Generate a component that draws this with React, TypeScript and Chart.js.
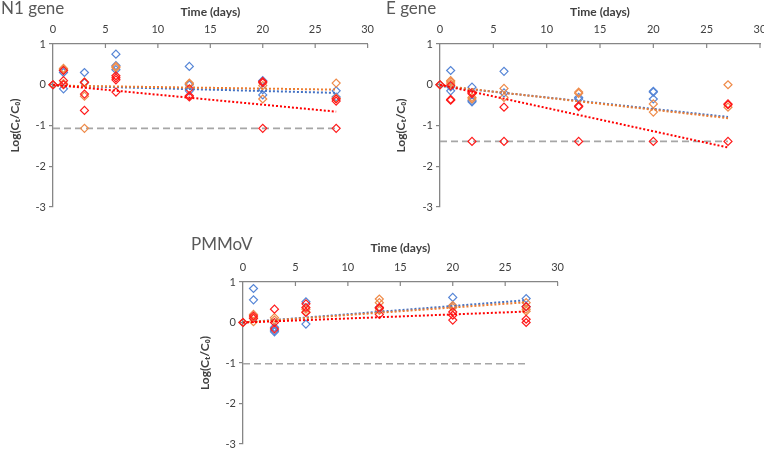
import React, { useEffect, useRef } from 'react';
import { Chart, registerables } from 'chart.js';

Chart.register(...registerables);

// ---------- data ----------
const DAYS = [0, 1, 3, 6, 13, 20, 27];
const TREND_DAYS = [0, 27];
const X_TICKS = [0, 5, 10, 15, 20, 25, 30];
const Y_TICKS = [-3, -2, -1, 0, 1];

// N1 gene (replicate values per day)
const N1_BLUE = [[0], [0.35, 0.3, -0.1], [0.3, 0.05], [0.75, 0.47, 0.37], [0.45, 0.0, -0.15], [0.1, -0.12, -0.25], [-0.15, -0.3]];
const N1_ORANGE = [[0], [0.4, 0.38, 0.03], [0.07, -0.28, -1.07], [0.45, 0.42], [0.04, 0.02], [-0.02, -0.35], [0.04, -0.33]];
const N1_RED = [[0], [0.35, 0.1, 0.0], [0.06, -0.23, -0.63], [0.22, 0.17, 0.12, -0.18], [-0.1, -0.27, -0.3], [0.08, 0.05, -1.07], [-0.35, -0.4, -1.07]];
const N1_TREND_BLUE = [-0.02, -0.2];
const N1_TREND_ORANGE = [-0.02, -0.12];
const N1_TREND_RED = [0.0, -0.66];
const N1_LOD = -1.07;

// E gene
const E_BLUE = [[0], [0.35, -0.05, -0.15], [-0.06, -0.39, -0.42], [0.33, -0.2], [-0.31, -0.35], [-0.16, -0.18, -0.35], []];
const E_ORANGE = [[0], [0.1, 0.02, 0.07], [-0.31, -0.35], [-0.09, -0.31], [-0.18, -0.21], [-0.47, -0.67], [0.0, -0.55]];
const E_RED = [[0], [-0.02, -0.36, -0.38], [-0.19, -0.22, -1.39], [-0.55, -1.39], [-0.52, -0.54, -1.39], [-1.39], [-0.47, -0.49, -1.39]];
const E_TREND_BLUE = [-0.03, -0.79];
const E_TREND_ORANGE = [-0.02, -0.82];
const E_TREND_RED = [0.0, -1.54];
const E_LOD = -1.39;

// PMMoV
const P_BLUE = [[0], [0.84, 0.56], [-0.12, -0.23, -0.2], [0.51, -0.04], [0.37], [0.62, 0.41], [0.59, 0.39]];
const P_ORANGE = [[0], [0.2, 0.02, 0.13], [0.12, 0.06], [0.33, 0.26], [0.58, 0.49, 0.3], [0.42, 0.37], [0.49, 0.33, 0.28]];
const P_RED = [[0], [0.16, 0.1], [0.33, 0.0, -0.16], [0.46, 0.37, 0.25], [0.37, 0.35, 0.2], [0.26, 0.18, 0.06], [0.39, 0.08, 0.0]];
const P_TREND_BLUE = [0.0, 0.55];
const P_TREND_ORANGE = [0.0, 0.5];
const P_TREND_RED = [0.0, 0.27];
const P_LOD = -1.02;

// ---------- styling ----------
const BLUE = '#5585D6';
const ORANGE = '#EF8A48';
const RED = '#FF1A1A';
const BLUE_LINE = '#4472C4';
const ORANGE_LINE = '#ED7D31';
const RED_LINE = '#FF0000';
const GREY_DASH = '#A6A6A6';
const AXIS = '#868686';
const TEXT = '#404040';
const FONT = 'Lato, "Open Sans", sans-serif';

const toPoints = (vals: number[][]) =>
  vals.flatMap((arr, i) => arr.map((v) => ({ x: DAYS[i], y: v })));
const toLine = (vals: number[]) => vals.map((v, i) => ({ x: TREND_DAYS[i], y: v }));

const innerTicks = {
  id: 'innerTicks',
  afterDraw(chart: any) {
    const { ctx, chartArea, scales } = chart;
    const x = scales.x;
    ctx.save();
    ctx.strokeStyle = AXIS;
    ctx.lineWidth = 1.2;
    X_TICKS.forEach((t) => {
      if (t === 0) return;
      const px = x.getPixelForValue(t);
      ctx.beginPath();
      ctx.moveTo(px, chartArea.top);
      ctx.lineTo(px, chartArea.top + 4);
      ctx.stroke();
    });
    ctx.restore();
  },
};

type PanelCfg = {
  left: number; top: number; w: number; h: number;
  yW: number; xH: number; padR: number; padB: number;
  xTitlePad: number; yTitlePad: number;
  blue: number[][]; orange: number[][]; red: number[][];
  tb: number[]; to: number[]; tr: number[]; lod: number;
};

function Panel(p: PanelCfg) {
  const ref = useRef<HTMLCanvasElement>(null);
  useEffect(() => {
    if (!ref.current) return;
    const scatter = (data: any[], color: string) => ({
      type: 'scatter',
      data,
      showLine: false,
      pointStyle: 'rectRot',
      pointRadius: 4,
      pointBorderWidth: 1.2,
      pointBorderColor: color,
      pointBackgroundColor: 'rgba(255,255,255,0)',
      borderColor: color,
      clip: false,
    });
    const line = (data: any[], color: string, dash: number[], width: number) => ({
      type: 'scatter',
      data,
      showLine: true,
      borderColor: color,
      borderWidth: width,
      borderDash: dash,
      pointRadius: 0,
      fill: false,
      clip: false,
    });
    const chart = new Chart(ref.current, {
      type: 'scatter',
      data: {
        datasets: [
          line(toLine(p.tr), RED_LINE, [2, 2], 2),
          line(toLine(p.to), ORANGE_LINE, [2, 2], 2),
          line(toLine(p.tb), BLUE_LINE, [2, 2], 2),
          scatter(toPoints(p.red), RED),
          scatter(toPoints(p.orange), ORANGE),
          scatter(toPoints(p.blue), BLUE),
          line(toLine([p.lod, p.lod]), GREY_DASH, [7, 4], 1.6),
        ] as any,
      },
      options: {
        animation: false,
        responsive: false,
        devicePixelRatio: 1,
        layout: { padding: { left: 0, top: 0, right: p.padR, bottom: p.padB } },
        plugins: { legend: { display: false }, tooltip: { enabled: false } },
        scales: {
          x: {
            type: 'linear',
            position: 'top',
            min: 0,
            max: 30,
            afterBuildTicks: (s: any) => { s.ticks = X_TICKS.map((v) => ({ value: v })); },
            afterFit: (s: any) => { s.height = p.xH; },
            grid: { display: false, drawTicks: false },
            border: { display: true, color: AXIS, width: 1.3 },
            ticks: { padding: 8, color: TEXT, font: { family: FONT, size: 11 } },
            title: {
              display: true,
              text: 'Time (days)',
              color: TEXT,
              font: { family: FONT, size: 12, weight: 'bold' },
              padding: { top: p.xTitlePad, bottom: 0 },
            },
          },
          y: {
            type: 'linear',
            position: 'left',
            min: -3,
            max: 1,
            afterBuildTicks: (s: any) => { s.ticks = Y_TICKS.map((v) => ({ value: v })); },
            afterFit: (s: any) => { s.width = p.yW; },
            grid: { display: true, drawOnChartArea: false, drawTicks: true, tickLength: 4, color: AXIS, lineWidth: 1.2 },
            border: { display: true, color: AXIS, width: 1.3 },
            ticks: { padding: 3, color: TEXT, font: { family: FONT, size: 11 } },
            title: {
              display: true,
              text: 'Log(Cₜ/C₀)',
              color: TEXT,
              font: { family: FONT, size: 12, weight: 'bold' },
              padding: { top: p.yTitlePad, bottom: 0 },
            },
          },
        },
      } as any,
      plugins: [innerTicks],
    });
    return () => chart.destroy();
  }, []);
  return (
    <canvas
      ref={ref}
      width={p.w}
      height={p.h}
      style={{ position: 'absolute', left: p.left, top: p.top, width: p.w, height: p.h }}
    />
  );
}

const titleStyle = (left: number, top: number): React.CSSProperties => ({
  position: 'absolute',
  left,
  top,
  fontFamily: FONT,
  fontSize: 17,
  lineHeight: '17px',
  color: '#595959',
  whiteSpace: 'nowrap',
});

export default function App() {
  return (
    <div style={{ position: 'absolute', left: 0, top: 0, width: 764, height: 449, overflow: 'hidden', background: '#fff' }}>
      <Panel left={0} top={0} w={382} h={225} yW={53} xH={44} padR={14} padB={18} xTitlePad={5} yTitlePad={8}
        blue={N1_BLUE} orange={N1_ORANGE} red={N1_RED} tb={N1_TREND_BLUE} to={N1_TREND_ORANGE} tr={N1_TREND_RED} lod={N1_LOD} />
      <Panel left={382} top={0} w={400} h={225} yW={58} xH={44} padR={22} padB={18} xTitlePad={5} yTitlePad={12}
        blue={E_BLUE} orange={E_ORANGE} red={E_RED} tb={E_TREND_BLUE} to={E_TREND_ORANGE} tr={E_TREND_RED} lod={E_LOD} />
      <Panel left={190} top={225} w={382} h={232} yW={53} xH={57} padR={13} padB={13} xTitlePad={16} yTitlePad={8}
        blue={P_BLUE} orange={P_ORANGE} red={P_RED} tb={P_TREND_BLUE} to={P_TREND_ORANGE} tr={P_TREND_RED} lod={P_LOD} />
      <div style={titleStyle(1, -1)}>N1 gene</div>
      <div style={titleStyle(386, -1)}>E gene</div>
      <div style={titleStyle(191, 235)}>PMMoV</div>
    </div>
  );
}
